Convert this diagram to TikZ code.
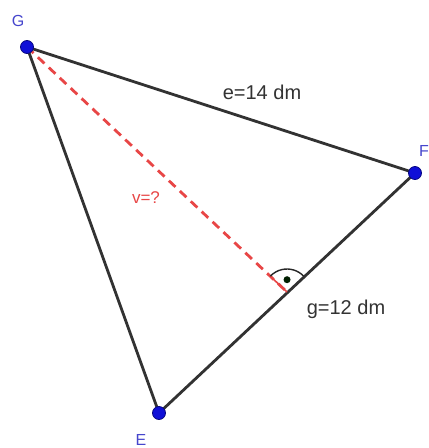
\documentclass[tikz,border=0pt]{standalone}
\usepackage{fontspec}
\setmainfont{Liberation Sans}
\usetikzlibrary{calc,angles}
\definecolor{ptblue}{RGB}{15,15,215}
\definecolor{lblblue}{RGB}{70,70,205}
\definecolor{edgec}{RGB}{50,50,50}
\definecolor{redd}{RGB}{232,70,70}
\begin{document}
\begin{tikzpicture}[x=1pt,y=-1pt,
  edge/.style={draw=edgec,line width=2.8pt,line join=round},
  height/.style={draw=redd,line width=2.8pt,dash pattern=on 9pt off 6pt},
  pt/.style={circle,fill=ptblue,draw=ptblue!60!black,line width=0.8pt,inner sep=0pt,minimum size=13pt},
  ptlabel/.style={text=lblblue,font=\fontsize{16}{18}\selectfont,inner sep=0pt},
  measure/.style={text=black!80,font=\fontsize{20}{22}\selectfont,inner sep=0pt}]
\useasboundingbox[fill=white] (0,0) rectangle (429,448);
\coordinate (G) at (27,47);
\coordinate (F) at (415,173);
\coordinate (E) at (159,413);
\coordinate (H) at (287,292);
% triangle
\draw[edge] (G) -- (F) -- (E) -- cycle;
% height
\draw[height] (G) -- (H);
% right angle mark
\coordinate (hg) at ($(H)!9pt!(G)$);
\coordinate (hf) at ($(H)!9pt!(F)$);
\coordinate (hdot) at ($(hg)+(hf)-(H)$);
\draw[redd,line width=1.6pt] (H) -- ($(H)!23pt!(G)$);
\pic[draw=black!85,line width=1.4pt,angle radius=23pt] {angle = F--H--G};
\node[circle,fill=black!70!green!40!black,inner sep=0pt,minimum size=7pt] (dotm) at (hdot) {};
% points
\node[pt] (Gp) at (G) {};
\node[pt] (Fp) at (F) {};
\node[pt] (Ep) at (E) {};
% labels
\node[ptlabel] (Gl) at (18,21) {G};
\node[ptlabel,anchor=west] (Fl) at (419,151) {F};
\node[ptlabel] (El) at (141,440) {E};
\node[measure] (el) at (262,92) {e=14 dm};
\node[measure] (gl) at (346,309) {g=12 dm};
\node[measure,text=redd,font=\fontsize{17}{19}\selectfont] (vl) at (146,198) {v=?};
\end{tikzpicture}
\end{document}
